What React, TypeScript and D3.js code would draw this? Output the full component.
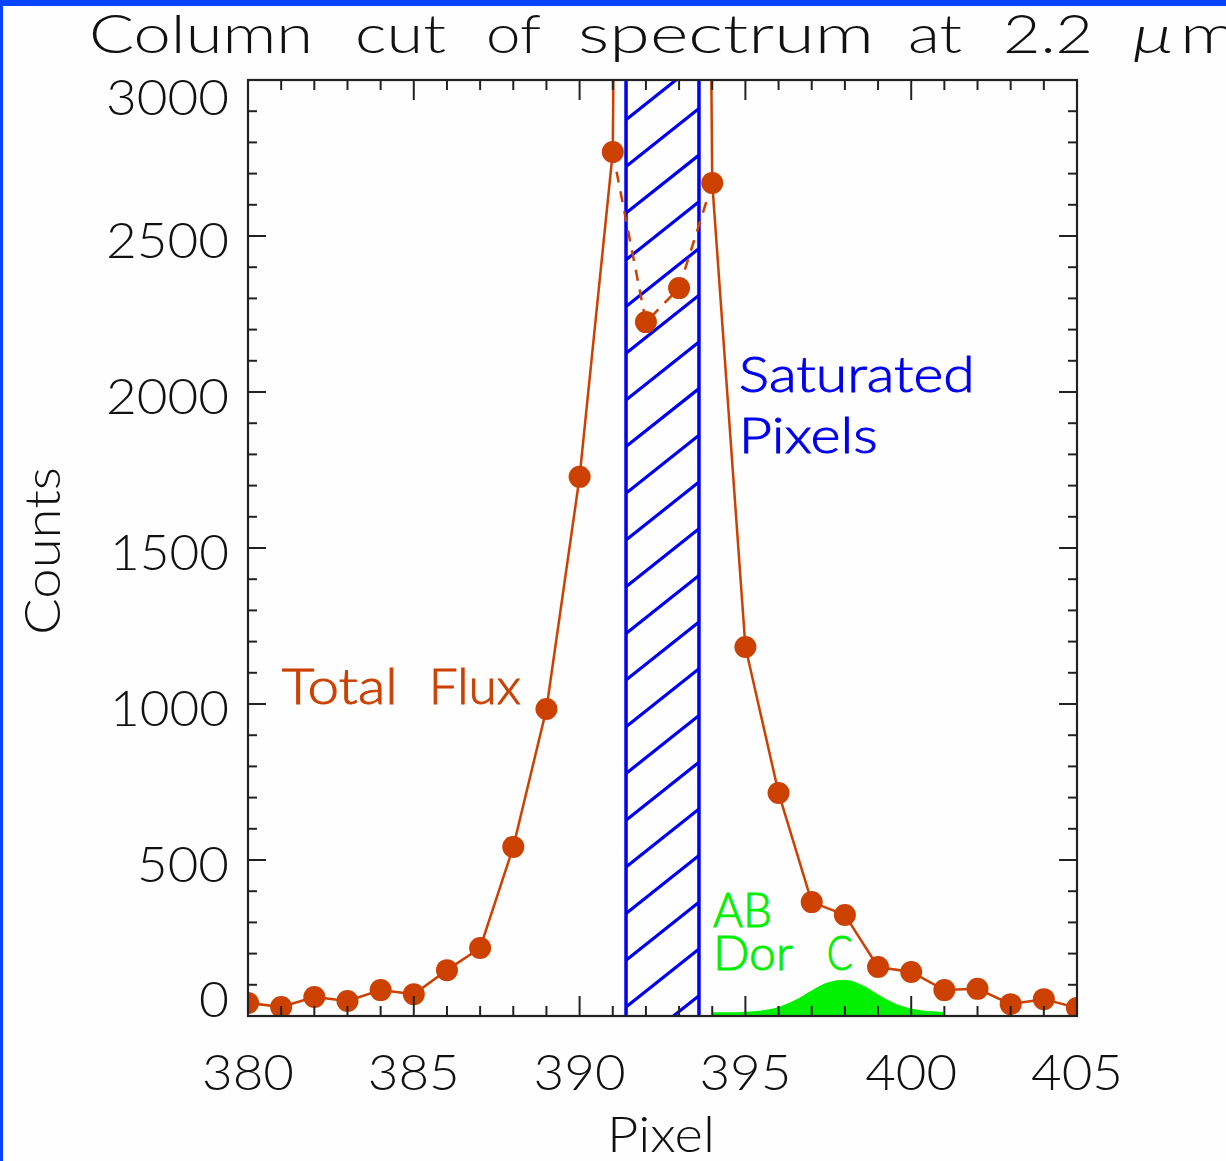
import React from "react";
import * as d3 from "d3";

// ---------------- data ----------------
const pixels = [380, 381, 382, 383, 384, 385, 386, 387, 388, 389, 390, 391, 392, 393, 394, 395, 396, 397, 398, 399, 400, 401, 402, 403, 404, 405];
const measuredCounts = [42, 29, 61, 48, 83, 70, 147, 218, 542, 984, 1728, 2769, 2224, 2333, 2670, 1183, 715, 365, 324, 157, 141, 83, 87, 38, 54, 26];
// total flux curve: saturated pixels 392, 393 rise far above the plot range
const totalFluxCounts = [42, 29, 61, 48, 83, 70, 147, 218, 542, 984, 1728, 2769, 15000, 15000, 2670, 1183, 715, 365, 324, 157, 141, 83, 87, 38, 54, 26];
const saturatedPixels = [391, 392, 393, 394];
const saturatedRange = [391.4, 393.6];

const companionPixels = [394, 394.5, 395, 395.5, 396, 396.5, 397, 397.5, 398, 398.5, 399, 399.5, 400, 400.5, 401];
const companionCounts = [12, 12, 14, 18, 29, 51, 82, 108, 116, 100, 69, 41, 24, 16, 13];

const xTickValues = [380, 385, 390, 395, 400, 405];
const yTickValues = [0, 500, 1000, 1500, 2000, 2500, 3000];

const titleWords = ["Column", "cut", "of", "spectrum", "at", "2.2", "\u03bc", "m"];

// ---------------- layout ----------------
const W = 1226;
const H = 1161;
const left = 248, right = 1077, top = 80, bottom = 1016;

const ORANGE = "#cc4000";
const BLUE = "#0000f0";
const GREEN = "#00f000";
const FONT = "Lato, 'Open Sans', 'DejaVu Sans', sans-serif";

export default function App() {
  const x = d3.scaleLinear().domain([380, 405]).range([left, right]);
  const y = d3.scaleLinear().domain([0, 3000]).range([bottom, top]);

  const line = d3.line<number>().x((_, i) => x(pixels[i])).y((d) => y(d));
  const solidPath = line(totalFluxCounts) || "";
  const dashPath =
    d3
      .line<number>()
      .x((d) => x(d))
      .y((d) => y(measuredCounts[pixels.indexOf(d)]))(saturatedPixels) || "";

  const area = d3
    .area<number>()
    .x((_, i) => x(companionPixels[i]))
    .y0(y(0))
    .y1((d) => y(d))
    .curve(d3.curveMonotoneX);
  const areaPath = area(companionCounts) || "";

  // hatch
  const hx0 = x(saturatedRange[0]);
  const hx1 = x(saturatedRange[1]);
  const spacing = 46.7;
  const rise = 58;
  const hatchLines: { x1: number; y1: number; x2: number; y2: number }[] = [];
  for (let k = -3; k < 25; k++) {
    const ly = bottom - 9 - k * spacing;
    hatchLines.push({ x1: hx0, y1: ly, x2: hx1, y2: ly - rise });
  }

  const xMinor = d3.range(380, 406, 1);
  const yMinor = d3.range(0, 3001, 100);

  const digitW = 31;
  const yLabelY = (v: number) => {
    const c = y(v) + 4;
    return Math.min(Math.max(c, top + 17), bottom - 17);
  };

  const titleX = [89, 355, 486, 578, 908, 1003, 1133, 1180];
  const titleW = [224, 91, 55, 296, 54, 90, 40, 58];

  const annot = {
    fontFamily: FONT,
    fontWeight: 300,
    fontSize: 49,
    strokeWidth: 0.9,
  };

  return (
    <div style={{ position: "absolute", left: 0, top: 0, width: W, height: H, background: "#fff" }}>
      <svg width={W} height={H} style={{ display: "block" }}>
        <defs>
          <clipPath id="plotClip">
            <rect x={left} y={top} width={right - left} height={bottom - top} />
          </clipPath>
          <clipPath id="hatchClip">
            <rect x={hx0} y={top} width={hx1 - hx0} height={bottom - top} />
          </clipPath>
        </defs>
        <rect x={0} y={0} width={W} height={H} fill="#fdfefd" />
        <rect x={0} y={0} width={W} height={6} fill="#0544ff" />
        <rect x={0} y={0} width={3} height={H} fill="#0544ff" />

        {/* title */}
        {titleWords.map((w, i) => (
          <text
            key={w}
            x={titleX[i]}
            y={53}
            fontFamily={FONT}
            fontWeight={300}
            fontSize={53}
            fontStyle={w === "\u03bc" ? "italic" : "normal"}
            fill="#111"
            textLength={titleW[i]}
            lengthAdjust="spacingAndGlyphs"
          >
            {w}
          </text>
        ))}

        <g clipPath="url(#plotClip)">
          <path d={areaPath} fill={GREEN} />
          <g clipPath="url(#hatchClip)">
            {hatchLines.map((l, i) => (
              <line key={i} x1={l.x1} y1={l.y1} x2={l.x2} y2={l.y2} stroke={BLUE} strokeWidth={3.2} />
            ))}
          </g>
          <line x1={hx0} x2={hx0} y1={top} y2={bottom} stroke={BLUE} strokeWidth={3.5} />
          <line x1={hx1} x2={hx1} y1={top} y2={bottom} stroke={BLUE} strokeWidth={3.5} />
          <path d={solidPath} fill="none" stroke={ORANGE} strokeWidth={2.5} />
          <path d={dashPath} fill="none" stroke={ORANGE} strokeWidth={2.5} strokeDasharray="11 9" />
          {pixels.map((p, i) => (
            <circle key={p} cx={x(p)} cy={y(measuredCounts[i])} r={11} fill={ORANGE} />
          ))}
        </g>

        {/* frame */}
        <rect x={left} y={top} width={right - left} height={bottom - top} fill="none" stroke="#222" strokeWidth={2.2} />
        {xMinor.map((v) => {
          const len = v % 5 === 0 ? 20 : 10;
          return (
            <g key={"xt" + v}>
              <line x1={x(v)} x2={x(v)} y1={bottom} y2={bottom - len} stroke="#222" strokeWidth={2} />
              <line x1={x(v)} x2={x(v)} y1={top} y2={top + len} stroke="#222" strokeWidth={2} />
            </g>
          );
        })}
        {yMinor.map((v) => {
          const len = v % 500 === 0 ? 18 : 9;
          return (
            <g key={"yt" + v}>
              <line x1={left} x2={left + len} y1={y(v)} y2={y(v)} stroke="#222" strokeWidth={2} />
              <line x1={right} x2={right - len} y1={y(v)} y2={y(v)} stroke="#222" strokeWidth={2} />
            </g>
          );
        })}

        {/* tick labels */}
        {xTickValues.map((v) => (
          <text
            key={"xl" + v}
            x={x(v)}
            y={1090}
            textAnchor="middle"
            fontFamily={FONT}
            fontWeight={300}
            fontSize={50}
            fill="#111"
            textLength={String(v).length * digitW - 1}
            lengthAdjust="spacingAndGlyphs"
          >
            {v}
          </text>
        ))}
        {yTickValues.map((v) => (
          <text
            key={"yl" + v}
            x={229}
            y={yLabelY(v)}
            dy="0.36em"
            textAnchor="end"
            fontFamily={FONT}
            fontWeight={300}
            fontSize={50}
            fill="#111"
            textLength={String(v).length * digitW - (v >= 1000 && String(v)[0] === "1" ? 5 : 1)}
            lengthAdjust="spacingAndGlyphs"
          >
            {v}
          </text>
        ))}

        {/* axis titles */}
        <text
          x={661}
          y={1152}
          textAnchor="middle"
          fontFamily={FONT}
          fontWeight={300}
          fontSize={49}
          fill="#111"
          textLength={108}
          lengthAdjust="spacingAndGlyphs"
        >
          Pixel
        </text>
        <text
          transform="translate(60,551) rotate(-90)"
          textAnchor="middle"
          fontFamily={FONT}
          fontWeight={300}
          fontSize={49}
          fill="#111"
          textLength={168}
          lengthAdjust="spacingAndGlyphs"
        >
          Counts
        </text>

        {/* annotations */}
        <text x={x(381.02)} y={y(1000)} {...annot} fill={ORANGE} stroke={ORANGE}>
          <tspan textLength={116} lengthAdjust="spacingAndGlyphs">Total</tspan>
          <tspan x={x(385.45)} textLength={92} lengthAdjust="spacingAndGlyphs">Flux</tspan>
        </text>
        <text x={x(394.8)} y={y(2000)} {...annot} fill={BLUE} stroke={BLUE}>
          <tspan textLength={236} lengthAdjust="spacingAndGlyphs">Saturated</tspan>
          <tspan x={x(394.8)} y={y(1804)} textLength={139} lengthAdjust="spacingAndGlyphs">Pixels</tspan>
        </text>
        <text x={x(394.02)} y={y(286)} {...annot} fontSize={47} fill={GREEN} stroke={GREEN}>
          <tspan textLength={59} lengthAdjust="spacingAndGlyphs">AB</tspan>
          <tspan x={x(394.02)} y={y(147)} textLength={80} lengthAdjust="spacingAndGlyphs">Dor</tspan>
          <tspan x={x(397.45)} y={y(147)} textLength={26} lengthAdjust="spacingAndGlyphs">C</tspan>
        </text>
      </svg>
    </div>
  );
}
